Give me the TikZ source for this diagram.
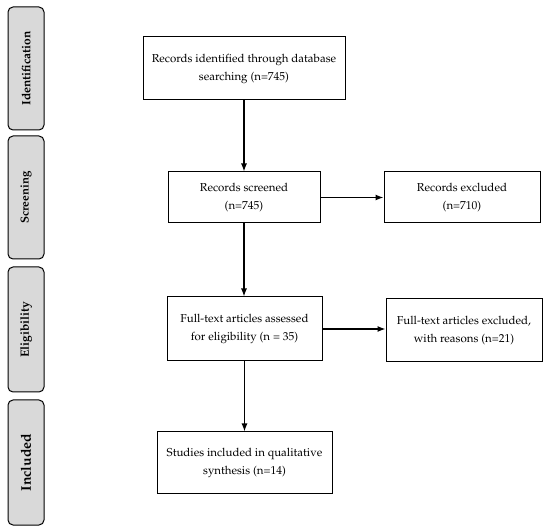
\documentclass[tikz,border=0pt]{standalone}
\usepackage[T1]{fontenc}
\usepackage{mathpazo}
\usepackage{tikz}
\usetikzlibrary{arrows.meta}

\tikzset{
  stage/.style={draw, line width=1pt, fill=gray!30, rounded corners=5pt,
    minimum height=36pt, inner sep=0pt, rotate=90, font=\bfseries},
  flowbox/.style={draw, line width=1pt, align=center, inner sep=0pt,
    font=\fontsize{11.5}{18}\selectfont},
  flow/.style={-{Latex[length=8pt,width=6pt]}, line width=1.2pt}
}

\begin{document}
\begin{tikzpicture}[x=1pt,y=-1pt]
    \useasboundingbox (0,0) rectangle (550,532);

    \node[stage, minimum width=123pt, font=\bfseries\fontsize{12}{13}\selectfont] (s1) at (26,68.5)  {Identification};
    \node[stage, minimum width=123pt, font=\bfseries\fontsize{11.5}{13}\selectfont] (s2) at (26,197.5) {Screening};
    \node[stage, minimum width=125pt, font=\bfseries\fontsize{12}{13}\selectfont] (s3) at (26,329.5) {Eligibility};
    \node[stage, minimum width=125pt, font=\bfseries\fontsize{14}{16}\selectfont] (s4) at (26,462.5) {Included};

    \node[flowbox, minimum width=202pt, minimum height=63pt] (a) at (244,68.5)   {Records identified through database\\searching (n=745)};
    \node[flowbox, minimum width=152pt, minimum height=51pt] (b) at (244,197.5)  {Records screened\\(n=745)};
    \node[flowbox, minimum width=156pt, minimum height=51pt] (c) at (462,197.5)  {Records excluded\\(n=710)};
    \node[flowbox, minimum width=155pt, minimum height=64pt] (d) at (244.5,329) {Full-text articles assessed\\for eligibility (n = 35)};
    \node[flowbox, minimum width=156pt, minimum height=63pt] (e) at (464,330.5) {Full-text articles excluded,\\with reasons (n=21)};
    \node[flowbox, minimum width=175pt, minimum height=61pt] (f) at (244.5,462.5) {Studies included in qualitative\\synthesis (n=14)};

    \draw[flow] (a) -- (b);
    \draw[flow] (b) -- (c);
    \draw[flow] (b.south) -- (b.south |- d.north);
    \draw[flow] (d.east) -- (d.east -| e.west);
    \draw[flow] (d.south) -- (d.south |- f.north);

\end{tikzpicture}
\end{document}
